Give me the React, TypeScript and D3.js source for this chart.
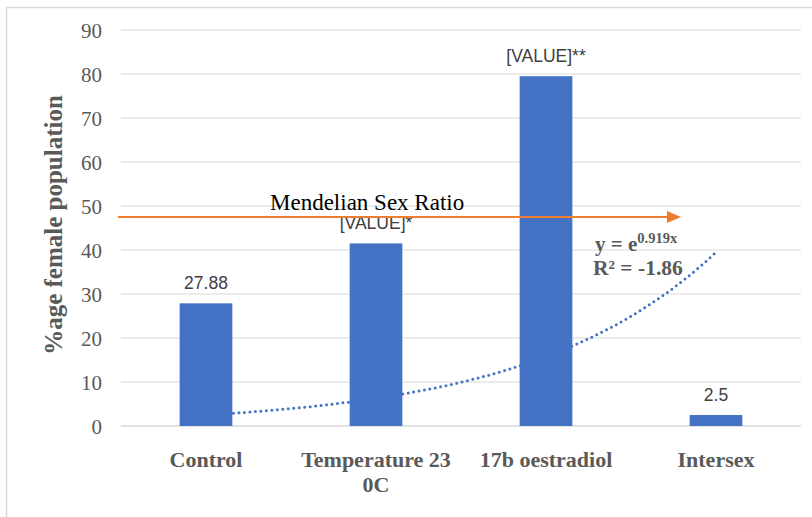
import React from "react";
import * as d3 from "d3";

const categories = ["Control", "Temperature 23 0C", "17b oestradiol", "Intersex"];
const categoryLines = [["Control"], ["Temperature 23", "0C"], ["17b oestradiol"], ["Intersex"]];
const values = [27.88, 41.5, 79.5, 2.5];
const dataLabels = ["27.88", "[VALUE]*", "[VALUE]**", "2.5"];
const yTicks = [0, 10, 20, 30, 40, 50, 60, 70, 80, 90];
const trendCoef = 0.919;
const mendelianValue = 47.5;

const W = 812, H = 517;
const left = 121, right = 801, top = 30, bottom = 426;

export default function App() {
  const x = d3.scaleBand<string>().domain(categories).range([left, right]).paddingInner(0.69).paddingOuter(0.345);
  const y = d3.scaleLinear().domain([0, 90]).range([bottom, top]);
  const cx = (i: number) => (x(categories[i]) as number) + x.bandwidth() / 2;
  const xIdx = d3.scaleLinear().domain([1, 4]).range([cx(0), cx(3)]);
  const trendPts: [number, number][] = d3.range(0, 61).map((k) => {
    const t = 1 + (3 * k) / 60;
    return [xIdx(t), y(Math.exp(trendCoef * t))];
  });
  const line = d3.line<[number, number]>().x((d) => d[0]).y((d) => d[1]).curve(d3.curveLinear);
  const serif = "'Liberation Serif', 'Times New Roman', serif";
  const sans = "'Liberation Sans', Arial, sans-serif";
  const arrowY = y(mendelianValue);
  return (
    <svg width={W} height={H} style={{ position: "absolute", left: 0, top: 0, background: "#fff" }}>
      <rect x={6.5} y={7.5} width={830} height={530} fill="#fff" stroke="#d9d9d9" strokeWidth={1.5} />
      {yTicks.map((t) => (
        <g key={t}>
          <line x1={left} x2={right} y1={y(t)} y2={y(t)} stroke="#d9d9d9" strokeWidth={t === 0 ? 1.5 : 1} />
          <text x={102} y={y(t) + 8} textAnchor="end" fontFamily={serif} fontSize={21} fill="#595959">{t}</text>
        </g>
      ))}
      <text transform={`translate(62,225) rotate(-90)`} textAnchor="middle" fontFamily={serif} fontSize={25} fontWeight="bold" fill="#595959">%age female population</text>
      <path d={line(trendPts) || ""} fill="none" stroke="#4472C4" strokeWidth={3} strokeLinecap="round" strokeDasharray="0 5.5" />
      {values.map((v, i) => (
        <rect key={i} x={x(categories[i])} y={y(v)} width={x.bandwidth()} height={y(0) - y(v)} fill="#4472C4" />
      ))}
      {values.map((v, i) => (
        <text key={"l" + i} x={cx(i)} y={y(v) - 14} textAnchor="middle" fontFamily={sans} fontSize={17.5} fill="#404040">{dataLabels[i]}</text>
      ))}
      {categoryLines.map((ls, i) => (
        <text key={"c" + i} textAnchor="middle" fontFamily={serif} fontSize={22} fontWeight="bold" fill="#595959">
          {ls.map((s, j) => (
            <tspan key={j} x={cx(i)} y={467 + j * 25}>{s}</tspan>
          ))}
        </text>
      ))}
      <line x1={118} x2={668} y1={arrowY} y2={arrowY} stroke="#ED7D31" strokeWidth={2} />
      <path d={`M667,${arrowY - 6} L681,${arrowY} L667,${arrowY + 6} Z`} fill="#ED7D31" />
      <text x={270} y={210} fontFamily={serif} fontSize={23} fill="#000">Mendelian Sex Ratio</text>
      <text x={595} y={251} fontFamily={serif} fontSize={21} fontWeight="bold" fill="#595959">
        y = e<tspan dy={-8} fontSize={14.5}>0.919x</tspan>
      </text>
      <text x={593} y={275} fontFamily={serif} fontSize={21.5} fontWeight="bold" fill="#595959">R² = -1.86</text>
    </svg>
  );
}
